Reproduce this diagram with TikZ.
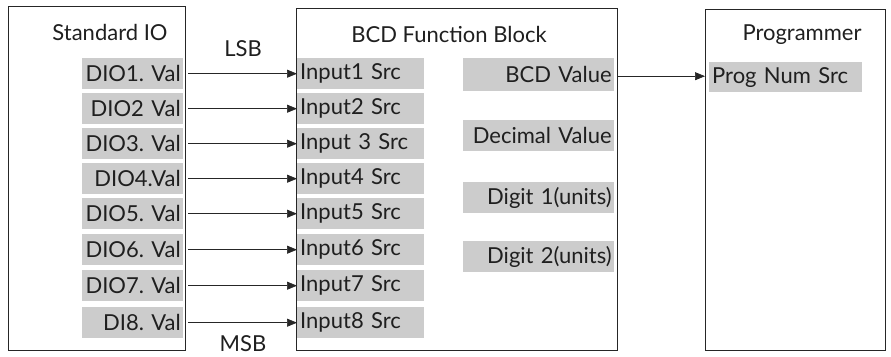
\documentclass[tikz,border=0pt]{standalone}
\usepackage{fontspec}
\setmainfont{Lato}
\usetikzlibrary{arrows.meta}
\begin{document}
\frenchspacing
\begin{tikzpicture}[x=1pt,y=-1pt,
  blk/.style={draw=black!85, line width=0.8pt, fill=none},
  txt/.style={font=\fontsize{22}{25}\selectfont, text=black!88},
  gR/.style={txt, fill=black!20, inner xsep=2.5pt, inner ysep=0pt, minimum height=31pt, text width=#1, align=right, anchor=north west},
  gL/.style={txt, fill=black!20, inner xsep=3pt, inner ysep=0pt, minimum height=31pt, text width=#1, align=left, anchor=north west},
  ttl/.style={txt, inner sep=0pt},
  arr/.style={-{Triangle[length=10pt,width=8pt]}, line width=0.7pt, black!85}]
\useasboundingbox (0,0) rectangle (891,356);
% outer blocks
\node[blk, minimum width=177pt, minimum height=344pt, anchor=north west, inner sep=0pt] (std) at (8,6) {};
\node[blk, minimum width=321pt, minimum height=342pt, anchor=north west, inner sep=0pt] (bcd) at (296,8) {};
\node[blk, minimum width=180pt, minimum height=341pt, anchor=north west, inner sep=0pt] (prog) at (705,9) {};
% titles
\node[ttl] (tstd) at (110,32) {Standard IO};
\node[ttl] (tbcd) at (449,34) {BCD Function Block};
\node[ttl] (tprog) at (802,35) {Programmer};
\node[ttl] (lsb) at (243,49) {LSB};
\node[ttl] (msb) at (243,344) {MSB};
% DIO boxes
\node[gR=96pt] (d1) at (82,58) {\mbox{DIO1. Val}};
\node[gR=96pt] (d2) at (82,93) {\mbox{DIO2 Val}};
\node[gR=96pt] (d3) at (82,128) {\mbox{DIO3. Val}};
\node[gR=96pt] (d4) at (82,163) {\mbox{DIO4.Val}};
\node[gR=96pt] (d5) at (82,198) {\mbox{DIO5. Val}};
\node[gR=96pt] (d6) at (82,234) {\mbox{DIO6. Val}};
\node[gR=96pt] (d7) at (82,270) {\mbox{DIO7. Val}};
\node[gR=96pt] (d8) at (82,307) {\mbox{DI8. Val}};
% Input boxes
\node[gL=121pt] (i1) at (297,58) {Input1 Src};
\node[gL=121pt] (i2) at (297,93) {Input2 Src};
\node[gL=121pt] (i3) at (297,128) {Input 3 Src};
\node[gL=121pt] (i4) at (297,163) {Input4 Src};
\node[gL=121pt] (i5) at (297,198) {Input5 Src};
\node[gL=121pt] (i6) at (297,234) {Input6 Src};
\node[gL=121pt] (i7) at (297,270) {Input7 Src};
\node[gL=121pt] (i8) at (297,307) {Input8 Src};
% outputs
\node[gR=146pt, minimum height=33pt] (bv) at (463,58) {BCD Value};
\node[gR=146pt] (dv) at (463,120) {Decimal Value};
\node[gR=146pt] (g1) at (463,182) {Digit 1(units)};
\node[gR=146pt] (g2) at (463,241) {Digit 2(units)};
\node[gL=147pt, minimum height=30pt] (pn) at (709,62) {Prog Num Src};
% connectors
\foreach \k in {1,...,8} {
  \draw[arr] ([xshift=5pt]d\k.east) -- (i\k.west);
}
\coordinate (bvout) at ([yshift=-1.5pt]bv.east -| bcd.east);
\draw[arr] (bvout) -- (bvout -| prog.west);
\end{tikzpicture}
\end{document}
